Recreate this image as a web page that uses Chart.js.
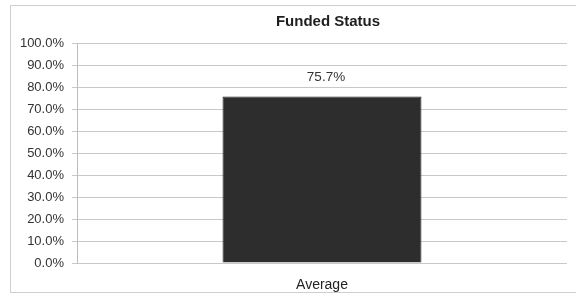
<!DOCTYPE html>
<html>
<head>
<meta charset="utf-8">
<script src="https://cdn.jsdelivr.net/npm/chart.js@4"></script>
<style>
  html, body { margin: 0; padding: 0; background: #fff; overflow: hidden; }
  #wrap { position: relative; width: 576px; height: 296px; overflow: hidden; }
  #frame { position: absolute; left: 10px; top: 5px; width: 580px; height: 288px; border: 1px solid #cfcfcf; box-sizing: border-box; }
  canvas { position: absolute; left: 0; top: 0; }
</style>
</head>
<body>
<div id="wrap">
  <div id="frame"></div>
  <canvas id="c" width="576" height="296"></canvas>
</div>
<script>
const categories = ["Average"];
const funded     = [75.7];
const tickValues = [0, 10, 20, 30, 40, 50, 60, 70, 80, 90, 100];
const chartTitle = "Funded Status";

const FONT = "Arial, 'Liberation Sans', sans-serif";

// title centred over the plot area, value labels above bars
const extras = {
  id: "extras",
  afterDatasetsDraw(chart) {
    const { ctx, chartArea } = chart;
    ctx.save();
    ctx.fillStyle = "#1e1e1e";
    ctx.font = "bold 15px " + FONT;
    ctx.textAlign = "center";
    ctx.textBaseline = "middle";
    ctx.fillText(chartTitle, (chartArea.left + chartArea.right) / 2 + 6, 22);

    ctx.font = "13.5px " + FONT;
    ctx.fillStyle = "#333";
    chart.getDatasetMeta(0).data.forEach((bar, i) => {
      ctx.fillText(funded[i].toFixed(1) + "%", bar.x + 4, bar.y - 19);
    });
    ctx.restore();
  }
};

new Chart(document.getElementById("c"), {
  type: "bar",
  plugins: [extras],
  data: {
    labels: categories,
    datasets: [{
      data: funded,
      backgroundColor: "#2d2d2d",
      borderColor: "#1c1c1c",
      borderWidth: 1,
      categoryPercentage: 1,
      barPercentage: 0.406
    }]
  },
  options: {
    responsive: false,
    animation: false,
    layout: { padding: { top: 43, right: 9, left: 0, bottom: 0 } },
    plugins: {
      legend: { display: false },
      tooltip: { enabled: false },
      title: { display: false }
    },
    scales: {
      x: {
        grid: { display: false, drawTicks: false },
        border: { display: false },
        ticks: { color: "#222", padding: 14, font: { family: FONT, size: 14 } },
        afterFit: s => { s.height = 33; }
      },
      y: {
        min: 0,
        max: 100,
        afterBuildTicks: s => { s.ticks = tickValues.map(v => ({ value: v })); },
        grid: { color: "#c8c8c8", tickLength: 5, lineWidth: 1 },
        border: { color: "#bdbdbd" },
        ticks: {
          color: "#333",
          padding: 8,
          font: { family: FONT, size: 13 },
          callback: v => v.toFixed(1) + "%"
        },
        afterFit: s => { s.width = 77; }
      }
    }
  }
});
</script>
</body>
</html>
